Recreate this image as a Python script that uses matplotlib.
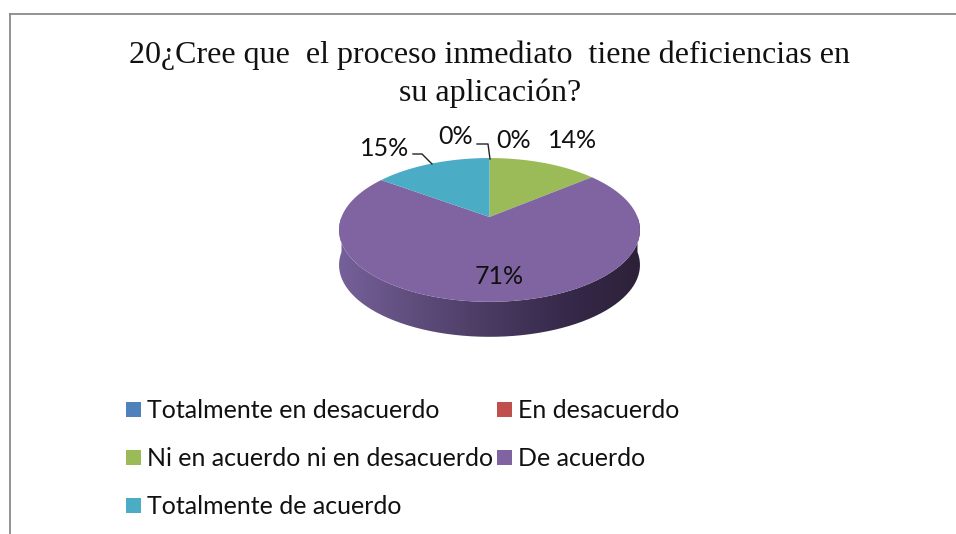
import numpy as np
import matplotlib
matplotlib.use("Agg")
import matplotlib.pyplot as plt
from matplotlib.colors import LinearSegmentedColormap
from matplotlib.patches import PathPatch, Rectangle
from matplotlib.path import Path

title_lines = ["20¿Cree que  el proceso inmediato  tiene deficiencias en", "su aplicación?"]
categories = ["Totalmente en desacuerdo", "En desacuerdo", "Ni en acuerdo ni en desacuerdo",
              "De acuerdo", "Totalmente de acuerdo"]
values = [0, 0, 14, 71, 15]
colors = ["#4f81bd", "#c0504d", "#9bbb59", "#8064a2", "#4bacc6"]
side_colors = ["#76609a", "#5f4d7c", "#4a3b62", "#36294a", "#2d2139"]

# tilted disc: centre of the pie on screen, scale and perspective
cx, cy = 489.5, 217
w = 148
a, c = -30.5, 0.18
depth = 35


def warp(theta_deg):
    t = np.radians(theta_deg)
    px, py = np.cos(t), np.sin(t)
    d = c * py + 1
    return cx + w * px / d, (a * py + cy) / d


fig = plt.figure(figsize=(9.56, 5.34), dpi=100)
ax = fig.add_axes([0, 0, 1, 1])

wedges, _ = ax.pie(values, colors=colors, startangle=90, counterclock=False)
ax.set_aspect("auto")
ax.set_axis_off()

# side of the cylinder, gradient clipped to the lower rim
lx, ly = warp(np.linspace(-180, 0, 200))
outline = np.column_stack([np.concatenate([lx, lx[::-1]]),
                           np.concatenate([ly, ly[::-1] + depth])])
cmap = LinearSegmentedColormap.from_list("side", side_colors)
im = ax.imshow(np.linspace(0, 1, 256)[None, :], cmap=cmap, aspect="auto",
               extent=[lx.min(), lx.max(), 345, 215], zorder=1)
clip = PathPatch(Path(outline), transform=ax.transData, fc="none", ec="none")
ax.add_patch(clip)
im.set_clip_path(clip)
ax.set_xlim(0, 956)
ax.set_ylim(534, 0)

# top face, from the angles the pie worked out
for wedge, color in zip(wedges, colors):
    wedge.remove()
    if wedge.theta2 - wedge.theta1 < 0.01:
        continue
    px, py = warp(np.linspace(wedge.theta1, wedge.theta2, 120))
    ax.fill(np.r_[cx, px], np.r_[cy, py], color=color, lw=0, zorder=2)

# percent labels
label_x = [514, 456, 573, 499, 385]
label_y = [140, 137, 140, 276, 148]
for v, x, y in zip(values, label_x, label_y):
    ax.text(x, y, f"{v}%", ha="center", va="center", family="Lato", fontsize=18,
            color="#111111", zorder=3)

# leader lines
ax.plot([477, 488, 490], [144, 144, 159], color="#222222", lw=1, zorder=3)
ax.plot([413, 422, 432], [154, 154, 164], color="#222222", lw=1, zorder=3)

# title
ax.text(490, 55, title_lines[0], ha="center", va="center", family="Liberation Serif",
        fontsize=23, color="#111111")
ax.text(490, 93, title_lines[1], ha="center", va="center", family="Liberation Serif",
        fontsize=23, color="#111111")

# legend
leg_x = [126, 497, 126, 497, 126]
leg_y = [410, 410, 458, 458, 506]
for name, color, x, y in zip(categories, colors, leg_x, leg_y):
    ax.add_patch(Rectangle((x, y - 8), 15, 15, fc=color, ec="none"))
    ax.text(x + 21, y, name, va="center", family="Lato", fontsize=18, color="#111111")

# chart frame, only top and left are in the crop
ax.plot([10, 956], [14, 14], color="#8a8a8a", lw=1.3)
ax.plot([10, 10], [14, 534], color="#8a8a8a", lw=1.3)

fig.savefig("out.png", dpi=100)
